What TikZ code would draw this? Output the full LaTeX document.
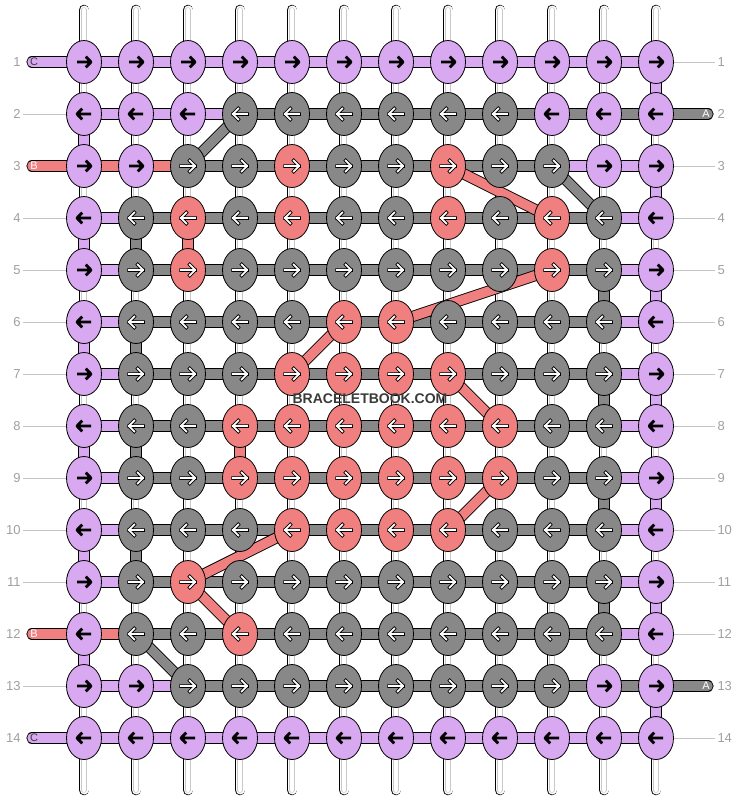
\documentclass[tikz,border=0pt]{standalone}
\usepackage{fontspec}
\setsansfont{Liberation Sans}
\usetikzlibrary{shapes.geometric,backgrounds}

\definecolor{threadP}{HTML}{D8A8F0}
\definecolor{threadG}{HTML}{888888}
\definecolor{threadR}{HTML}{F08080}
\definecolor{numgray}{HTML}{A0A0A0}
\definecolor{linegray}{HTML}{C4C4C4}
\definecolor{warpgray}{HTML}{C8C8C8}
\definecolor{markgray}{HTML}{3A3A3A}

\tikzset{
    knot/.style={ellipse, draw=black, line width=0.8pt, minimum width=35pt, minimum height=43pt, inner sep=0pt},
    knotP/.style={knot, fill=threadP},
    knotG/.style={knot, fill=threadG},
    knotR/.style={knot, fill=threadR},
    arrowP/.style={draw=black, line width=2.8pt, line join=round},
    arrowG/.style={draw=white, line width=1.8pt, line cap=rect, line join=round,
        preaction={draw=black, line width=3.5pt, line cap=rect, line join=round}},
    arrowR/.style={arrowG},
    band/.style={line width=9.4pt, line cap=round, preaction={draw=black, line width=11.2pt, line cap=round}},
    bandP/.style={band, draw=threadP},
    bandG/.style={band, draw=threadG},
    bandR/.style={band, draw=threadR},
    warp/.style={draw=white, line width=9pt, line cap=round,
        preaction={draw=black, line width=10.6pt, line cap=round},
        postaction={draw=warpgray, line width=5.4pt, line cap=round},
        postaction={draw=white, line width=4.2pt, line cap=round}},
    rownum/.style={font=\sffamily\fontsize{13}{15}\selectfont, text=numgray, inner sep=0pt, outer sep=2.5pt},
    numline/.style={draw=linegray, line width=0.8pt},
    taillabel/.style={font=\sffamily\fontsize{11}{13}\selectfont, inner sep=0pt},
}

\begin{document}
\begin{tikzpicture}[x=1pt, y=-1pt]
\useasboundingbox (0,0) rectangle (740,800);

% Knots (row / direction / colours)
\foreach \r/\dir/\knots in {
    1/1/{P,P,P,P,P,P,P,P,P,P,P,P},
    2/-1/{P,P,P,G,G,G,G,G,G,P,P,P},
    3/1/{P,P,G,G,R,G,G,R,G,G,P,P},
    4/-1/{P,G,R,G,R,G,G,R,G,R,G,P},
    5/1/{P,G,R,G,G,G,G,G,G,R,G,P},
    6/-1/{P,G,G,G,G,R,R,G,G,G,G,P},
    7/1/{P,G,G,G,R,R,R,R,G,G,G,P},
    8/-1/{P,G,G,R,R,R,R,R,R,G,G,P},
    9/1/{P,G,G,R,R,R,R,R,R,G,G,P},
    10/-1/{P,G,G,G,R,R,R,R,G,G,G,P},
    11/1/{P,G,R,G,G,G,G,G,G,G,G,P},
    12/-1/{P,G,G,R,G,G,G,G,G,G,G,P},
    13/1/{P,P,G,G,G,G,G,G,G,G,P,P},
    14/-1/{P,P,P,P,P,P,P,P,P,P,P,P}}
{
    \foreach \k [count=\c] in \knots {
        \node[knot\k] (k-\r-\c) at (32+52*\c, 10+52*\r) {};
        \draw[arrow\k, shift={(k-\r-\c)}, xscale=\dir] (-7,0) -- (7,0) (1.8,-5.4) -- (7,0) -- (1.8,5.4);
    }
}

% Row numbers
\foreach \r in {1,...,14} {
    \node[rownum, anchor=east] (nl-\r) at (23, 10+52*\r) {\r};
    \node[rownum, anchor=west] (nr-\r) at (715, 10+52*\r) {\r};
}

\begin{scope}[on background layer]
\fill[white] (0,0) rectangle (740,800);

% Warp strings
\foreach \c in {1,...,12} {
    \coordinate (wt-\c) at (32+52*\c, 10);
    \coordinate (wb-\c) at (32+52*\c, 790);
    \draw[warp] (wt-\c) -- (wb-\c);
}

% Row threads between knots
\foreach \r/\segs in {
    1/{P,P,P,P,P,P,P,P,P,P,P},
    2/{P,P,P,G,G,G,G,G,G,G,G},
    3/{R,R,G,G,G,G,G,G,G,P,P},
    4/{P,G,G,G,G,G,G,G,G,G,P},
    5/{P,G,G,G,G,G,G,G,G,G,P},
    6/{P,G,G,G,G,G,G,G,G,G,P},
    7/{P,G,G,G,G,G,G,G,G,G,P},
    8/{P,G,G,G,G,G,G,G,G,G,P},
    9/{P,G,G,G,G,G,G,G,G,G,P},
    10/{P,G,G,G,G,G,G,G,G,G,P},
    11/{P,G,G,G,G,G,G,G,G,G,P},
    12/{R,G,G,G,G,G,G,G,G,G,P},
    13/{P,P,G,G,G,G,G,G,G,G,G},
    14/{P,P,P,P,P,P,P,P,P,P,P}}
{
    \foreach \s [count=\c] in \segs {
        \pgfmathtruncatemacro\n{\c+1}
        \draw[band\s] (k-\r-\c.center) -- (k-\r-\n.center);
    }
}

% Thread shown between rows
\foreach \r/\c/\s in {2/1/P, 4/1/P, 6/1/P, 8/1/P, 10/1/P, 12/1/P,
    1/12/P, 3/12/P, 5/12/P, 7/12/P, 9/12/P, 11/12/P, 13/12/P,
    4/2/G, 6/2/G, 8/2/G, 10/2/G,
    5/11/G, 7/11/G, 9/11/G, 11/11/G,
    4/3/R, 8/4/R}
{
    \pgfmathtruncatemacro\n{\r+1}
    \draw[band\s] (k-\r-\c.center) -- (k-\n-\c.center);
}

% Diagonal changes
\foreach \ra/\ca/\rb/\cb/\s in {2/4/3/3/G, 3/10/4/11/G, 12/2/13/3/G,
    3/8/4/10/R, 5/10/6/7/R, 6/6/7/5/R, 7/8/8/9/R,
    9/9/10/8/R, 10/5/11/3/R, 11/3/12/4/R}
    \draw[band\s] (k-\ra-\ca.center) -- (k-\rb-\cb.center);

% Tails
\foreach \r/\s in {1/P, 3/R, 12/R, 14/P} {
    \coordinate (tl-\r) at (32, 10+52*\r);
    \draw[band\s] (tl-\r) -- (k-\r-1.center);
}
\foreach \r in {2,13} {
    \coordinate (tr-\r) at (708, 10+52*\r);
    \draw[bandG] (k-\r-12.center) -- (tr-\r);
}

% Number lines
\foreach \r in {2,4,5,6,7,8,9,10,11,13}
    \draw[numline] (nl-\r) -- (k-\r-1);
\foreach \r in {1,3,4,5,6,7,8,9,10,11,12,14}
    \draw[numline] (k-\r-12) -- (nr-\r);
\end{scope}

% Tail letters
\foreach \r/\lab/\col in {1/C/markgray, 3/B/white, 12/B/white, 14/C/markgray}
    \node[taillabel, text=\col] (lab-l-\r) at (34, 10+52*\r) {\lab};
\foreach \r in {2,13}
    \node[taillabel, text=white] (lab-r-\r) at (706, 10+52*\r) {A};

% Watermark
\node[font=\sffamily\bfseries\fontsize{14}{16}\selectfont, text=markgray] (mark) at (370,399) {BRACELETBOOK.COM};

\end{tikzpicture}
\end{document}
